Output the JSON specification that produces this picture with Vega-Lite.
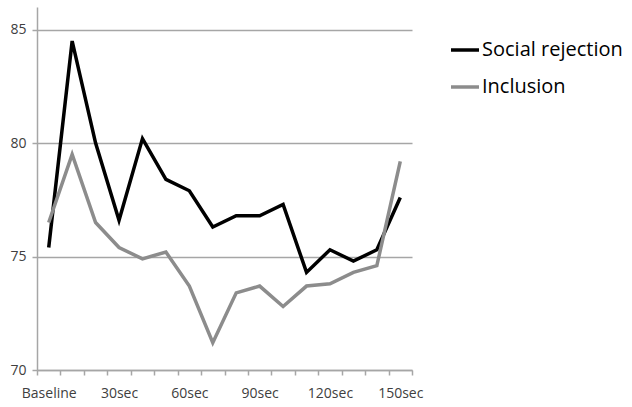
{
  "$schema": "https://vega.github.io/schema/vega-lite/v6.json",
  "autosize": "none",
  "padding": {"left": 37, "top": 7, "right": 220, "bottom": 37},
  "width": 375,
  "height": 363,
  "background": "white",
  "config": {"view": {"stroke": null}, "font": "Open Sans"},
  "data": {"values": [
    {"t": "Baseline", "i": 0, "g": "Social rejection", "v": 75.4},
    {"t": "10sec", "i": 1, "g": "Social rejection", "v": 84.5},
    {"t": "20sec", "i": 2, "g": "Social rejection", "v": 80.0},
    {"t": "30sec", "i": 3, "g": "Social rejection", "v": 76.6},
    {"t": "40sec", "i": 4, "g": "Social rejection", "v": 80.2},
    {"t": "50sec", "i": 5, "g": "Social rejection", "v": 78.4},
    {"t": "60sec", "i": 6, "g": "Social rejection", "v": 77.9},
    {"t": "70sec", "i": 7, "g": "Social rejection", "v": 76.3},
    {"t": "80sec", "i": 8, "g": "Social rejection", "v": 76.8},
    {"t": "90sec", "i": 9, "g": "Social rejection", "v": 76.8},
    {"t": "100sec", "i": 10, "g": "Social rejection", "v": 77.3},
    {"t": "110sec", "i": 11, "g": "Social rejection", "v": 74.3},
    {"t": "120sec", "i": 12, "g": "Social rejection", "v": 75.3},
    {"t": "130sec", "i": 13, "g": "Social rejection", "v": 74.8},
    {"t": "140sec", "i": 14, "g": "Social rejection", "v": 75.3},
    {"t": "150sec", "i": 15, "g": "Social rejection", "v": 77.6},
    {"t": "Baseline", "i": 0, "g": "Inclusion", "v": 76.5},
    {"t": "10sec", "i": 1, "g": "Inclusion", "v": 79.5},
    {"t": "20sec", "i": 2, "g": "Inclusion", "v": 76.5},
    {"t": "30sec", "i": 3, "g": "Inclusion", "v": 75.4},
    {"t": "40sec", "i": 4, "g": "Inclusion", "v": 74.9},
    {"t": "50sec", "i": 5, "g": "Inclusion", "v": 75.2},
    {"t": "60sec", "i": 6, "g": "Inclusion", "v": 73.7},
    {"t": "70sec", "i": 7, "g": "Inclusion", "v": 71.2},
    {"t": "80sec", "i": 8, "g": "Inclusion", "v": 73.4},
    {"t": "90sec", "i": 9, "g": "Inclusion", "v": 73.7},
    {"t": "100sec", "i": 10, "g": "Inclusion", "v": 72.8},
    {"t": "110sec", "i": 11, "g": "Inclusion", "v": 73.7},
    {"t": "120sec", "i": 12, "g": "Inclusion", "v": 73.8},
    {"t": "130sec", "i": 13, "g": "Inclusion", "v": 74.3},
    {"t": "140sec", "i": 14, "g": "Inclusion", "v": 74.6},
    {"t": "150sec", "i": 15, "g": "Inclusion", "v": 79.2}
  ]},
  "mark": {"type": "line", "strokeWidth": 3.5, "strokeJoin": "miter"},
  "encoding": {
    "x": {
      "field": "t", "type": "ordinal", "sort": {"field": "i"},
      "bandPosition": 0.5,
      "scale": {"type": "band", "paddingInner": 0, "paddingOuter": 0},
      "axis": {
        "title": null, "labelAngle": 0, "tickBand": "extent",
        "labelExpr": "indexof(['Baseline','30sec','60sec','90sec','120sec','150sec'], datum.value) >= 0 ? datum.value : ''",
        "domainColor": "#a6a6a6", "domainWidth": 1.5,
        "tickColor": "#a6a6a6", "tickWidth": 1.5, "tickSize": 5,
        "labelFontSize": 14, "labelColor": "#404040", "labelPadding": 11,
        "grid": false
      }
    },
    "y": {
      "field": "v", "type": "quantitative",
      "scale": {"domain": [70, 86], "nice": false, "zero": false},
      "axis": {
        "title": null, "values": [70, 75, 80, 85],
        "domainColor": "#a6a6a6", "domainWidth": 1.5,
        "tickColor": "#a6a6a6", "tickWidth": 1.5, "tickSize": 5,
        "gridColor": "#a6a6a6", "gridWidth": 1.5,
        "labelFontSize": 14, "labelColor": "#404040", "labelPadding": 6
      }
    },
    "color": {
      "field": "g", "type": "nominal",
      "scale": {"domain": ["Social rejection", "Inclusion"], "range": ["#000000", "#8c8c8c"]},
      "legend": {
        "title": null, "orient": "none", "legendX": 412, "legendY": 27,
        "symbolType": "stroke", "symbolSize": 784, "symbolStrokeWidth": 3.5,
        "labelFontSize": 20, "labelColor": "#000000", "labelOffset": 1,
        "rowPadding": 11
      }
    }
  }
}
